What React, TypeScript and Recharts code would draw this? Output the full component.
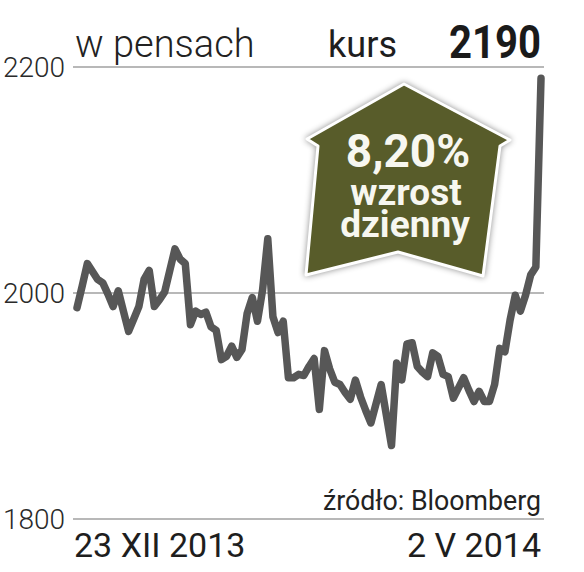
import React from 'react';
import { LineChart, Line, XAxis, YAxis, CartesianGrid } from 'recharts';

// Kurs w pensach, 23 XII 2013 – 2 V 2014 (sesje)
const prices: number[] = [
  1987, 2006, 2026, 2019, 2012, 2009, 1999, 1988, 2002, 1984,
  1966, 1977, 1988, 2012, 2020, 1988, 1994, 2001, 2020, 2039,
  2030, 2026, 1972, 1984, 1981, 1983, 1970, 1967, 1941, 1944,
  1953, 1943, 1950, 1982, 1996, 1975, 2003, 2048, 1979, 1965,
  1975, 1925, 1925, 1928, 1927, 1935, 1942, 1897, 1949, 1933,
  1921, 1919, 1912, 1906, 1923, 1908, 1896, 1885, 1902, 1919,
  1892, 1865, 1938, 1923, 1955, 1956, 1935, 1930, 1926, 1947,
  1944, 1928, 1926, 1907, 1916, 1925, 1914, 1904, 1913, 1904,
  1904, 1919, 1951, 1948, 1976, 1998, 1984, 1998, 2016, 2023,
  2190,
];
const dateLabels: string[] = ['23 XII 2013', '2 V 2014'];
const yTicks: number[] = [1800, 2000, 2200];
const unitLabel = 'w pensach';
const priceLabel = 'kurs';
const lastPrice = '2190';
const changeLabel = '8,20%';
const changeWords: string[] = ['wzrost', 'dzienny'];
const sourceLabel = 'źródło: Bloomberg';

const data = prices.map((v, i) => ({ i, v }));
const lastIndex = prices.length - 1;

const DateTick = (props: any) => {
  const { x, y, payload } = props;
  const first = payload.value === 0;
  return (
    <text
      x={first ? x - 3 : x}
      y={y + 30}
      textAnchor={first ? 'start' : 'end'}
      fontFamily="Roboto"
      fontWeight={400}
      fontSize={34}
      fill="#1e1e1e"
    >
      {first ? dateLabels[0] : dateLabels[1]}
    </text>
  );
};

export default function App() {
  return (
    <div style={{ position: 'absolute', left: 0, top: 0, width: 584, height: 572, background: '#fff' }}>
      <LineChart width={584} height={572} data={data} margin={{ top: 67, right: 40, bottom: 0, left: 0 }}>
        <CartesianGrid vertical={false} stroke="#a0a0a0" strokeWidth={1.5} />
        <XAxis
          dataKey="i"
          type="number"
          domain={[-0.78, lastIndex + 0.58]}
          ticks={[0, lastIndex]}
          tickLine={false}
          axisLine={false}
          height={53}
          tick={<DateTick />}
          interval={0}
        />
        <YAxis
          width={73}
          domain={[1800, 2200]}
          ticks={yTicks}
          tickLine={false}
          axisLine={false}
          tick={{ fontFamily: 'Roboto', fontWeight: 300, fontSize: 28, fill: '#2a2a2a' }}
        />
        <Line
          type="linear"
          dataKey="v"
          stroke="#575757"
          strokeWidth={7.5}
          strokeLinejoin="round"
          strokeLinecap="round"
          dot={false}
          activeDot={false}
          isAnimationActive={false}
        />
      </LineChart>
      <svg
        width={584}
        height={572}
        style={{ position: 'absolute', left: 0, top: 0, pointerEvents: 'none' }}
      >
        <text x={75} y={57} fontFamily="Roboto" fontWeight={300} fontSize={38} fill="#222">
          {unitLabel}
        </text>
        <text x={328} y={57} fontFamily="Roboto" fontWeight={400} fontSize={37} fill="#1e1e1e" textLength={69} lengthAdjust="spacingAndGlyphs">
          {priceLabel}
        </text>
        <text x={541} y={58} textAnchor="end" fontFamily="Roboto" fontWeight={700} fontSize={46} fill="#1a1a1a" textLength={92} lengthAdjust="spacingAndGlyphs">
          {lastPrice}
        </text>
        <text x={541} y={510} textAnchor="end" fontFamily="Roboto" fontWeight={400} fontSize={27} fill="#222" textLength={218} lengthAdjust="spacingAndGlyphs">
          {sourceLabel}
        </text>
        <polygon
          points="404,84 510,140 500,146 483,276 398,252 306,275 318,146 307,139"
          fill="#585c2a"
          stroke="#ffffff"
          strokeWidth={3}
          strokeLinejoin="round"
          style={{ filter: 'drop-shadow(0px 0px 3px rgba(0,0,0,0.45))' }}
        />
        <text textAnchor="middle" fontFamily="Roboto" fontWeight={700} fill="#f7f7f0">
          <tspan x={408} y={167} fontSize={46}>{changeLabel}</tspan>
          <tspan x={406} y={205} fontSize={37}>{changeWords[0]}</tspan>
          <tspan x={405} y={237} fontSize={37}>{changeWords[1]}</tspan>
        </text>
      </svg>
    </div>
  );
}
